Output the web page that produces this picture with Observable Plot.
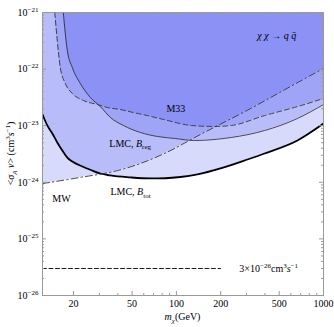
<!DOCTYPE html>
<html><head><meta charset="utf-8">
<script src="https://cdn.jsdelivr.net/npm/d3@7"></script>
<script src="https://cdn.jsdelivr.net/npm/@observablehq/plot@0.6"></script>
<style>body{margin:0;background:#fff}</style>
</head><body><div id="chart"></div>
<script>
// ---- data ----
const massBtot  = [12.3, 13.26, 14.34, 15.5, 16.77, 18.14, 19.61, 22.93, 26.83, 30.41, 35.56, 48.6, 66.5, 84.2, 106.5, 139, 202, 304, 397, 665, 1000];
const sigmaBtot = [1.58e-23, 1.01e-23, 7.3e-24, 5.05e-24, 3.65e-24, 2.74e-24, 2.33e-24, 1.90e-24, 1.61e-24, 1.43e-24, 1.32e-24, 1.22e-24, 1.17e-24, 1.18e-24, 1.24e-24, 1.38e-24, 1.78e-24, 2.53e-24, 3.23e-24, 5.48e-24, 1.09e-23];

const massMW  = [12.3, 22.2, 39.7, 56.9, 82.9, 145.6, 319, 596, 1000];
const sigmaMW = [9.5e-25, 1.22e-24, 1.61e-24, 2.15e-24, 3.23e-24, 7.0e-24, 2.01e-23, 4.93e-23, 1.03e-22];

const massBreg  = [17.03, 18.14, 19.61, 22.23, 26.0, 30.41, 35.56, 43.6, 56.9, 74.3, 98.4, 132.6, 236.7, 397, 665, 1000];
const sigmaBreg = [1e-21, 2.13e-22, 1.07e-22, 5.57e-23, 3.15e-23, 2.18e-23, 1.40e-23, 1.01e-23, 7.59e-24, 6.45e-24, 5.94e-24, 5.48e-24, 6.2e-24, 8.2e-24, 1.34e-23, 2.37e-23];

const massM33  = [14.91, 15.5, 16.25, 17.58, 19.61, 23.3, 29.0, 33.9, 41.6, 51.0, 63.5, 81.6, 126.5, 181.4, 236.7, 397, 665, 1000];
const sigmaM33 = [1e-21, 3.2e-22, 1.07e-22, 5.57e-23, 3.71e-23, 2.79e-23, 2.37e-23, 2.10e-23, 1.93e-23, 1.71e-23, 1.51e-23, 1.29e-23, 1.01e-23, 9.7e-24, 1.01e-23, 1.51e-23, 2.18e-23, 3.03e-23];

const thermalMass = [12.3, 200];
const thermalSigma = 3e-26;

const xDomain = [12.3, 1000];
const yDomain = [1e-26, 1e-21];
const xMajor = [20, 50, 100, 200, 500, 1000];
const xMinor = [30, 40, 60, 70, 80, 90, 300, 400, 600, 700, 800, 900];
const yMajor = [1e-26, 1e-25, 1e-24, 1e-23, 1e-22, 1e-21];
const yMinor = [-26, -25, -24, -23, -22].flatMap(e => [2,3,4,5,6,7,8,9].map(k => k * Math.pow(10, e)));

const lblThermal = "3×10^{−26}cm^{3}*s*^{−1}";
const lblChannel = "*χ χ* → *q* *q̄*";
const yLabel = "<*σ*_{*A*} *v*> (cm^{3}*s*^{−1})";
const xLabel = "*m*_{*χ*}(GeV)";

// ---- layout ----
const W = 334, H = 327, mL = 42, mR = 11, mT = 12, mB = 32;
const pW = W - mL - mR, pH = H - mT - mB;
const fillC = "#3a44f2", fillO = 0.2, frameC = "#999";

const toRows = (ms, ss) => ms.map((m, i) => ({m, s: ss[i]}));
const bt = toRows(massBtot, sigmaBtot), mw = toRows(massMW, sigmaMW),
      br = toRows(massBreg, sigmaBreg), m33 = toRows(massM33, sigmaM33);
const region = rows => Plot.areaY(rows, {x: "m", y1: "s", y2: yDomain[1], fill: fillC, fillOpacity: fillO, curve: "monotone-x", clip: true});

const chart = Plot.plot({
  width: W, height: H,
  marginLeft: mL, marginRight: mR, marginTop: mT, marginBottom: mB,
  style: {fontFamily: "'Liberation Serif', 'Times New Roman', serif", fontSize: "10px", background: "#fff"},
  x: {type: "log", domain: xDomain},
  y: {type: "log", domain: yDomain},
  marks: [
    region(bt), region(mw), region(br), region(m33),
    Plot.line(bt, {x: "m", y: "s", stroke: "#000", strokeWidth: 1.8, curve: "monotone-x", clip: true}),
    Plot.line(br, {x: "m", y: "s", stroke: "#222", strokeWidth: 0.8, curve: "monotone-x", clip: true}),
    Plot.line(m33, {x: "m", y: "s", stroke: "#333", strokeWidth: 0.9, strokeDasharray: "5,3", curve: "monotone-x", clip: true}),
    Plot.line(mw, {x: "m", y: "s", stroke: "#333", strokeWidth: 0.9, strokeDasharray: "7,3,1.5,3", curve: "monotone-x", clip: true}),
    Plot.line(thermalMass, {x: d => d, y: () => thermalSigma, stroke: "#000", strokeWidth: 0.9, strokeDasharray: "4,2.5"}),
    Plot.frame({stroke: frameC}),
    // inward ticks
    Plot.tickY(yMajor, {insetRight: pW - 4, stroke: frameC}),
    Plot.tickY(yMajor, {insetLeft: pW - 4, stroke: frameC}),
    Plot.tickY(yMinor, {insetRight: pW - 2, stroke: frameC}),
    Plot.tickY(yMinor, {insetLeft: pW - 2, stroke: frameC}),
    Plot.tickX(xMajor, {insetTop: pH - 4, stroke: frameC}),
    Plot.tickX(xMajor, {insetBottom: pH - 4, stroke: frameC}),
    Plot.tickX(xMinor, {insetTop: pH - 2, stroke: frameC}),
    Plot.tickX(xMinor, {insetBottom: pH - 2, stroke: frameC}),
    Plot.axisY({ticks: yMajor, tickSize: 0, tickPadding: 4, label: null,
      tickFormat: d => `10^{−${Math.round(-Math.log10(d))}}`}),
    Plot.axisX({ticks: xMajor, tickSize: 0, tickPadding: 4, label: null, tickFormat: d => String(d)}),
    // labels
    Plot.text(["M33"], {x: 85.5, y: 2.0e-23, textAnchor: "start", fill: "#000"}),
    Plot.text(["LMC, *B*_{reg}"], {x: 35.0, y: 4.85e-24, textAnchor: "start", fill: "#000"}),
    Plot.text(["LMC, *B*_{tot}"], {x: 35.6, y: 6.87e-25, textAnchor: "start", fill: "#000"}),
    Plot.text(["MW"], {x: 14.34, y: 5.2e-25, textAnchor: "start", fill: "#000"}),
    Plot.text([lblChannel], {x: 355, y: 3.9e-22, textAnchor: "start", fill: "#000"}),
    Plot.text([lblThermal], {x: 268, y: thermalSigma, textAnchor: "start", fill: "#000"})
  ]
});
document.getElementById("chart").appendChild(chart);

const svg = d3.select(chart);
svg.append("text").attr("transform", `translate(11,${mT + pH / 2}) rotate(-90)`)
  .attr("text-anchor", "middle").attr("dy", "0.32em").text(yLabel);
svg.append("text").attr("x", mL + pW / 2).attr("y", H - 7)
  .attr("text-anchor", "middle").text(xLabel);

// rich-text: *italic*, ^{sup}, _{sub}
const NS = "http://www.w3.org/2000/svg";
svg.selectAll("text").each(function () {
  const s = this.textContent;
  if (!/[*^_]/.test(s)) return;
  const runs = []; let italic = false, mode = null, buf = "";
  const push = () => { if (buf) runs.push({t: buf, italic, mode}); buf = ""; };
  for (let i = 0; i < s.length; i++) {
    const c = s[i];
    if (c === "*") { push(); italic = !italic; }
    else if ((c === "^" || c === "_") && s[i + 1] === "{") { push(); mode = c === "^" ? "sup" : "sub"; i++; }
    else if (c === "}" && mode) { push(); mode = null; }
    else buf += c;
  }
  push();
  const fs = parseFloat(getComputedStyle(this).fontSize) || 10;
  while (this.firstChild) this.removeChild(this.firstChild);
  let cur = 0;
  for (const r of runs) {
    const ts = document.createElementNS(NS, "tspan");
    ts.textContent = r.t;
    if (r.italic) ts.setAttribute("font-style", "italic");
    const target = r.mode === "sup" ? -0.4 * fs : r.mode === "sub" ? 0.28 * fs : 0;
    if (target !== cur) { ts.setAttribute("dy", target - cur); cur = target; }
    if (r.mode) ts.setAttribute("font-size", (0.7 * fs).toFixed(1));
    this.appendChild(ts);
  }
});
</script></body></html>
